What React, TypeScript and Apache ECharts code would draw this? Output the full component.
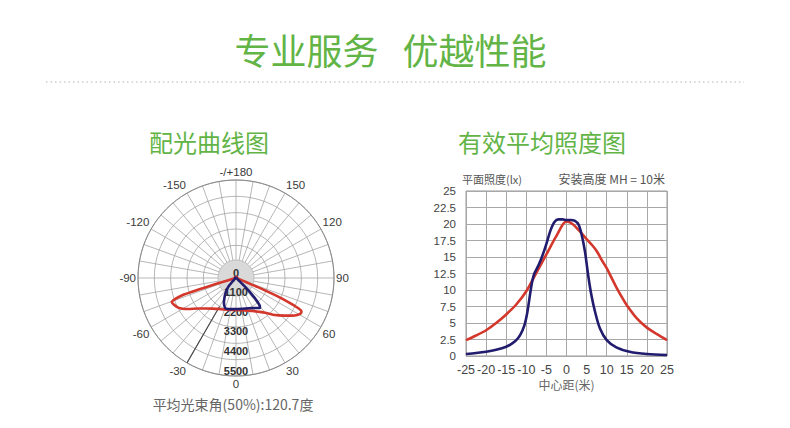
import React, { useEffect, useRef } from "react";
import * as echarts from "echarts";

// ---- texts ----
const mainTitle = "专业服务   优越性能";
const polarTitle = "配光曲线图";
const lineTitle = "有效平均照度图";
const beamText = "平均光束角(50%):120.7度";
const yUnitText = "平面照度(lx)";
const heightText = "安装高度 MH = 10米";
const xName = "中心距(米)";

// ---- polar (light distribution, cd) ----
const redPolarAngle = [-180, -150, -120, -95, -80, -75, -74, -73.3, -72.8, -72.2, -71, -69.5, -67, -62.8, -60, -57, -51, -45, -38, -30, -20, -10, 0, 10, 20, 27, 33.5, 40, 46.5, 52, 56, 59, 61.5, 63, 64.1, 65, 66, 66.6, 67.2, 67.8, 69, 75, 90, 120, 150, 180];
const redPolarValue = [70, 70, 70, 80, 100, 180, 350, 1235, 2200, 3200, 3600, 3850, 3800, 3640, 3450, 3200, 2720, 2420, 2180, 2000, 1880, 1815, 1795, 1840, 1950, 2080, 2270, 2540, 3020, 3430, 3780, 4020, 4150, 4120, 3890, 3400, 2800, 2200, 1400, 600, 200, 90, 70, 70, 70, 70];

const bluePolarAngle = [-180, -120, -90, -60, -50, -45, -41.5, -37, -33, -29.5, -26, -22.5, -19.5, -14, -7, 0, 10, 22, 30, 36, 39, 41, 43, 45, 46, 48, 50, 60, 90, 180];
const bluePolarValue = [50, 50, 50, 60, 100, 250, 650, 900, 1130, 1330, 1550, 1700, 1800, 1790, 1760, 1740, 1760, 1835, 1950, 2080, 2140, 2000, 1560, 1000, 700, 300, 120, 60, 50, 50];

const beamAngle = [-30, -30];
const beamValue = [1850, 5500];

// ---- illuminance (lx) vs distance (m) ----
const redX = [-25, -22.5, -20, -17.5, -15, -12.5, -10, -7.5, -5, -2.5, 0, 1.5, 3, 5, 6.5, 7.5, 9, 10, 11, 12.5, 14, 15, 17.5, 20, 22.5, 25];
const redY = [2.4, 3.1, 3.9, 5.0, 6.3, 7.8, 9.8, 12.6, 15.4, 18.2, 20.4, 20.0, 19.1, 17.7, 16.7, 15.9, 14.3, 13.3, 12.1, 10.3, 8.7, 7.7, 5.7, 4.3, 3.3, 2.4];

const blueX = [-25, -22.5, -20, -17.5, -15, -13.5, -12.5, -11.5, -10.5, -9.75, -9, -8.5, -8, -7, -6, -5, -4, -3, -2, -1, 0, 1, 2, 3, 3.8, 4.6, 5.4, 6.2, 7.1, 8.3, 10, 12.4, 15.7, 20, 25];
const blueY = [0.3, 0.45, 0.65, 0.95, 1.4, 1.9, 2.4, 3.2, 4.6, 6.6, 9.6, 11.4, 12.5, 13.7, 15.2, 17.0, 19.0, 20.3, 20.7, 20.7, 20.6, 20.6, 20.5, 19.9, 18.3, 15.8, 12.2, 9.2, 6.7, 4.2, 2.4, 1.3, 0.65, 0.3, 0.15];

const RED = "#d4372b";
const BLUE = "#221c6e";
const GREEN = "#62b446";
const CJK = "'Noto Sans CJK SC', 'Noto Sans', sans-serif";
const LAT = "'Liberation Sans', Arial, sans-serif";

const toPolar = (angles: number[], values: number[]) =>
  angles.map((a, i) => [values[i], ((a % 360) + 360) % 360]);
const toXY = (xs: number[], ys: number[]) => xs.map((x, i) => [x, ys[i]]);

export default function App() {
  const ref = useRef<HTMLDivElement>(null);

  useEffect(() => {
    if (!ref.current) return;
    const chart = echarts.init(ref.current, undefined, { renderer: "svg" });
    const polarCenter = [236, 278];
    const polarRadius = 98;

    chart.setOption({
      animation: false,
      backgroundColor: "#ffffff",
      polar: [
        { center: polarCenter, radius: polarRadius },
        { center: polarCenter, radius: polarRadius },
      ],
      angleAxis: [
        {
          polarIndex: 0,
          type: "value",
          min: 0,
          max: 360,
          interval: 10,
          startAngle: 270,
          clockwise: false,
          axisLine: { show: true, lineStyle: { color: "#8a8a8a", width: 1 } },
          axisTick: { show: false },
          axisLabel: {
            margin: 2,
            color: "#3a3a3a",
            fontSize: 11.5,
            fontFamily: LAT,
            formatter: (v: number) => {
              const d = Math.round(v);
              if (d % 30 !== 0 || d === 360) return "";
              if (d === 180) return "-/+180";
              return d > 180 ? String(d - 360) : String(d);
            },
          },
          splitLine: { show: true, lineStyle: { color: "#a3a3a3", width: 0.8 } },
        },
        {
          polarIndex: 1,
          type: "value",
          min: 0,
          max: 360,
          startAngle: 270,
          show: false,
        },
      ],
      radiusAxis: [
        {
          polarIndex: 0,
          type: "value",
          min: 0,
          max: 5500,
          interval: 5500 / 6,
          axisLine: { show: false },
          axisTick: { show: false },
          axisLabel: { show: false },
          splitLine: { show: true, lineStyle: { color: "#a3a3a3", width: 0.8 } },
        },
        {
          polarIndex: 1,
          type: "value",
          min: 0,
          max: 5500,
          interval: 1100,
          z: 2,
          axisLine: { show: false },
          axisTick: { show: false },
          splitLine: { show: false },
          axisLabel: {
            show: true,
            margin: 0,
            align: "center",
            verticalAlign: "bottom",
            fontWeight: "bold",
            fontSize: 11,
            color: "#333",
            fontFamily: LAT,
            showMinLabel: true,
            showMaxLabel: true,
            formatter: (v: number) => String(Math.round(v)),
          },
        },
      ],
      grid: {
        left: 466,
        right: 123,
        top: 191,
        bottom: 72,
        show: true,
        borderColor: "#999",
        borderWidth: 1,
        backgroundColor: "transparent",
      },
      xAxis: {
        type: "value",
        min: -25,
        max: 25,
        interval: 5,
        axisLine: { show: false },
        axisTick: { show: false },
        splitLine: { show: true, lineStyle: { color: "#a8a8a8", width: 1 } },
        axisLabel: {
          margin: 7,
          fontSize: 12.5,
          color: "#444",
          fontFamily: LAT,
          showMinLabel: true,
          showMaxLabel: true,
        },
        name: xName,
        nameLocation: "middle",
        nameGap: 22,
        nameTextStyle: { fontSize: 12, color: "#666", fontFamily: CJK },
      },
      yAxis: {
        type: "value",
        min: 0,
        max: 25,
        interval: 2.5,
        axisLine: { show: false },
        axisTick: { show: false },
        splitLine: { show: true, lineStyle: { color: "#a8a8a8", width: 1 } },
        axisLabel: {
          margin: 10,
          fontSize: 11.5,
          color: "#444",
          fontFamily: LAT,
          showMinLabel: true,
          showMaxLabel: true,
        },
      },
      series: [
        {
          type: "pie",
          center: polarCenter,
          radius: [0, 18],
          silent: true,
          z: 1,
          label: { show: false },
          labelLine: { show: false },
          emphasis: { disabled: true },
          itemStyle: { color: "#d9d9d9", borderColor: "#b5b5b5", borderWidth: 0.8 },
          data: [{ value: 1 }],
        },
        {
          type: "line",
          coordinateSystem: "polar",
          polarIndex: 0,
          z: 3,
          showSymbol: false,
          silent: true,
          lineStyle: { color: "#4a4a4a", width: 1.1 },
          data: toPolar(beamAngle, beamValue),
        },
        {
          type: "line",
          coordinateSystem: "polar",
          polarIndex: 0,
          z: 4,
          showSymbol: false,
          smooth: 0.2,
          silent: true,
          lineStyle: { color: RED, width: 2.6 },
          data: toPolar(redPolarAngle, redPolarValue),
        },
        {
          type: "line",
          coordinateSystem: "polar",
          polarIndex: 0,
          z: 5,
          showSymbol: false,
          smooth: 0.2,
          silent: true,
          lineStyle: { color: BLUE, width: 2.6 },
          data: toPolar(bluePolarAngle, bluePolarValue),
        },
        {
          type: "line",
          xAxisIndex: 0,
          yAxisIndex: 0,
          z: 4,
          showSymbol: false,
          smooth: 0.3,
          silent: true,
          lineStyle: { color: RED, width: 2.6 },
          data: toXY(redX, redY),
        },
        {
          type: "line",
          xAxisIndex: 0,
          yAxisIndex: 0,
          z: 5,
          showSymbol: false,
          smooth: 0.3,
          silent: true,
          lineStyle: { color: BLUE, width: 2.6 },
          data: toXY(blueX, blueY),
        },
      ],
      graphic: [
        {
          type: "text",
          x: 390.5,
          y: 49,
          style: { text: mainTitle, fontSize: 36, fontFamily: CJK, fill: GREEN, align: "center", verticalAlign: "middle" },
        },
        {
          type: "line",
          shape: { x1: 46, y1: 82, x2: 744, y2: 82 },
          style: { stroke: "#cdcdcd", lineWidth: 1.5, lineDash: [1.5, 3] },
        },
        {
          type: "text",
          x: 209,
          y: 141,
          style: { text: polarTitle, fontSize: 24, fontFamily: CJK, fill: GREEN, align: "center", verticalAlign: "middle" },
        },
        {
          type: "text",
          x: 542,
          y: 141,
          style: { text: lineTitle, fontSize: 24, fontFamily: CJK, fill: GREEN, align: "center", verticalAlign: "middle" },
        },
        {
          type: "text",
          x: 233,
          y: 404,
          style: { text: beamText, fontSize: 14, fontFamily: CJK, fill: "#666", align: "center", verticalAlign: "middle" },
        },
        {
          type: "text",
          x: 462,
          y: 178.5,
          style: { text: yUnitText, fontSize: 11, fontFamily: CJK, fill: "#555", align: "left", verticalAlign: "middle" },
        },
        {
          type: "text",
          x: 665,
          y: 178.5,
          style: { text: heightText, fontSize: 12, fontFamily: CJK, fill: "#555", align: "right", verticalAlign: "middle" },
        },
      ],
    });

    return () => chart.dispose();
  }, []);

  return (
    <div
      ref={ref}
      style={{ position: "fixed", left: 0, top: 0, width: 790, height: 428, background: "#fff" }}
    />
  );
}
